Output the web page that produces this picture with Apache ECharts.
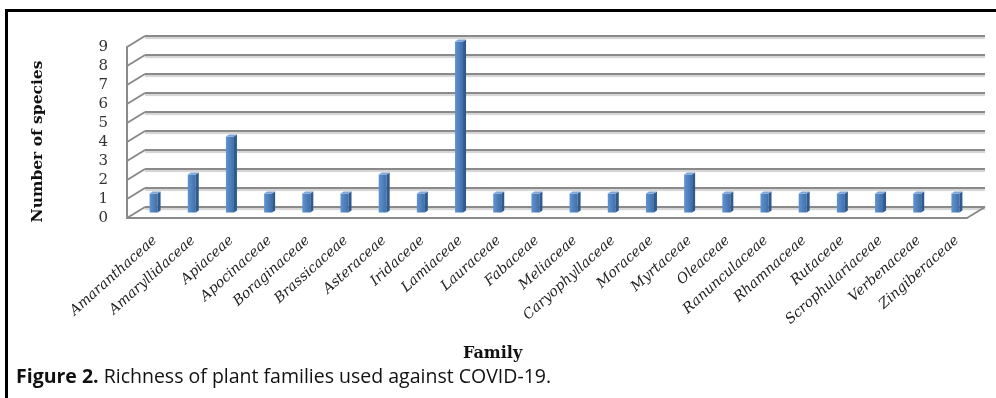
<!DOCTYPE html>
<html>
<head>
<meta charset="utf-8">
<script src="https://cdn.jsdelivr.net/npm/echarts@6/dist/echarts.min.js"></script>
<style>
html,body{margin:0;padding:0;background:#fff;}
#chart{position:absolute;left:0;top:0;width:996px;height:398px;}
#frame{position:absolute;left:5px;top:9px;width:991px;height:389px;border-top:3px solid #000;border-left:3px solid #000;box-sizing:border-box;pointer-events:none;}
</style>
</head>
<body>
<div id="chart"></div>
<div id="frame"></div>
<script>
// ---- data ----
const families = ['Amaranthaceae','Amaryllidaceae','Apiaceae','Apocinaceae','Boraginaceae','Brassicaceae','Asteraceae','Iridaceae','Lamiaceae','Lauraceae','Fabaceae','Meliaceae','Caryophyllaceae','Moraceae','Myrtaceae','Oleaceae','Ranunculaceae','Rhamnaceae','Rutaceae','Scrophulariaceae','Verbenaceae','Zingiberaceae'];
const species = [1,2,4,1,1,1,2,1,9,1,1,1,1,1,2,1,1,1,1,1,1,1];
const yMin = 0, yMax = 9, yInterval = 1;
const yTicks = [0,1,2,3,4,5,6,7,8,9];
const yTitle = 'Number of species';
const xTitle = 'Family';
const captionBold = 'Figure 2.';
const captionText = ' Richness of plant families used against COVID-19.';

// depth offset of the 3D floor (back wall -> front edge)
const DX = 18, DY = 11;
const gridColor = '#8a8a8a';

const chart = echarts.init(document.getElementById('chart'), null, {renderer:'canvas'});

const option = {
  animation: false,
  backgroundColor: '#fff',
  title: [
    {text: xTitle, left: 458, top: 341,
     textStyle: {fontFamily: 'DejaVu Serif', fontWeight: 'bold', fontSize: 16, color: '#111'}},
    {text: '{b|' + captionBold + '}{r|' + captionText + '}', left: 11, top: 362,
     textStyle: {rich: {
       b: {fontFamily: 'Open Sans', fontWeight: 'bold', fontSize: 19.5, color: '#111'},
       r: {fontFamily: 'Open Sans', fontWeight: 'normal', fontSize: 19.5, color: '#111'}
     }}}
  ],
  grid: [
    // back wall
    {left: 145, right: 11, top: 36, height: 171},
    // front edge (labels, wall front, floor front)
    {left: 127, right: 29, top: 47, height: 171},
    // bars, middle depth
    {left: 136, right: 20, top: 41.5, height: 171}
  ],
  xAxis: [
    {gridIndex: 0, type: 'value', min: 0, max: 1, show: false},
    {gridIndex: 1, type: 'value', min: 0, max: 1,
     axisLine: {show: true, lineStyle: {color: gridColor, width: 2}},
     axisTick: {show: false}, axisLabel: {show: false}, splitLine: {show: false}},
    {gridIndex: 2, type: 'category', data: families,
     axisLine: {show: false}, axisTick: {show: false}, splitLine: {show: false},
     axisLabel: {interval: 0, rotate: 42, margin: 26,
       fontFamily: 'DejaVu Serif', fontStyle: 'italic', fontSize: 14, color: '#222'}}
  ],
  yAxis: [
    {gridIndex: 0, type: 'value', min: yMin, max: yMax, interval: yInterval,
     axisLine: {show: false}, axisTick: {show: false}, axisLabel: {show: false},
     splitLine: {show: true, lineStyle: {color: gridColor, width: 2.2,
       shadowColor: 'rgba(0,0,0,0.18)', shadowOffsetY: 2, shadowBlur: 1}}},
    {gridIndex: 1, type: 'value', min: yMin, max: yMax, interval: yInterval,
     axisLine: {show: true, lineStyle: {color: gridColor, width: 2}},
     axisTick: {show: false}, splitLine: {show: false},
     axisLabel: {margin: 19, fontFamily: 'DejaVu Serif', fontSize: 15, color: '#333'},
     name: yTitle, nameLocation: 'middle', nameGap: 81,
     nameTextStyle: {fontFamily: 'DejaVu Serif', fontWeight: 'bold', fontSize: 15.5, color: '#111',
       padding: [0, 18, 0, 0]}},
    {gridIndex: 2, type: 'value', min: yMin, max: yMax, interval: yInterval, show: false}
  ],
  series: [
    {
      // floor/wall depth edges drawn from the back-wall tick positions
      type: 'custom', xAxisIndex: 0, yAxisIndex: 0, silent: true,
      data: yTicks.map(v => [0, v]).concat([[1, 0]]),
      renderItem: function (params, api) {
        const p = api.coord([api.value(0), api.value(1)]);
        return {type: 'line', shape: {x1: p[0], y1: p[1], x2: p[0] - DX, y2: p[1] + DY},
          style: {stroke: gridColor, lineWidth: 2}};
      }
    },
    {
      type: 'custom', xAxisIndex: 2, yAxisIndex: 2,
      data: species.map((v, i) => [i, v]),
      renderItem: function (params, api) {
        const i = api.value(0), v = api.value(1);
        const top = api.coord([i, v]);
        const base = api.coord([i, 0]);
        const fw = 8, sd = 3, su = 2;
        const x0 = top[0] - 5.5, x1 = x0 + fw;
        return {type: 'group', children: [
          {type: 'rect', shape: {x: x0, y: top[1], width: fw, height: base[1] - top[1]},
           style: {fill: new echarts.graphic.LinearGradient(0, 0, 1, 0, [
             {offset: 0, color: '#5f93d2'}, {offset: 0.5, color: '#4f81bd'}, {offset: 1, color: '#3f6fa8'}])}},
          {type: 'polygon', shape: {points: [[x1, top[1]], [x1 + sd, top[1] - su], [x1 + sd, base[1] - su], [x1, base[1]]]},
           style: {fill: '#2e5a8e'}},
          {type: 'polygon', shape: {points: [[x0, top[1]], [x0 + sd, top[1] - su], [x1 + sd, top[1] - su], [x1, top[1]]]},
           style: {fill: '#7ea6d8'}}
        ]};
      }
    }
  ]
};
chart.setOption(option);
</script>
</body>
</html>
